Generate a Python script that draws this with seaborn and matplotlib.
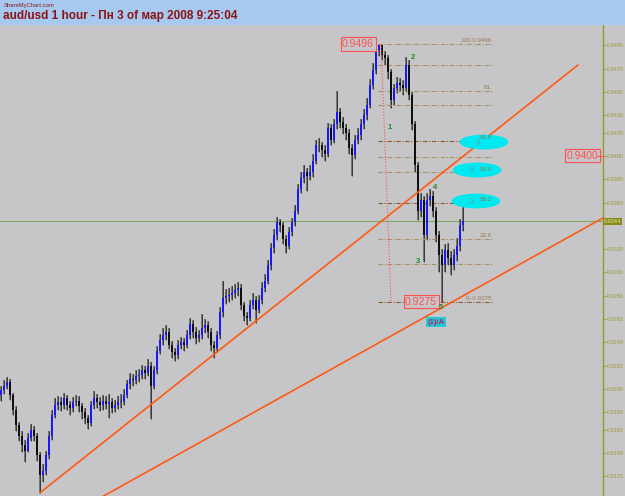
"""
aud/usd 1 hour chart (ShareMyChart screenshot) - candles, fibo levels, trendlines
"""
import numpy as np
import pandas as pd
import matplotlib.pyplot as plt
import seaborn as sns
from matplotlib.patches import Ellipse, Rectangle

sns.set_style("white")
plt.rcParams["font.family"] = ["Liberation Sans", "DejaVu Sans"]

# ---------------- DATA ----------------
closes = [0.9199, 0.9203, 0.9206, 0.9195, 0.9182, 0.9169, 0.9160, 0.9152, 0.9147, 0.9158,
          0.9165, 0.9160, 0.9143, 0.9126, 0.9130, 0.9143, 0.9160, 0.9178, 0.9186, 0.9189,
          0.9186, 0.9192, 0.9186, 0.9184, 0.9189, 0.9190, 0.9185, 0.9180, 0.9175, 0.9171,
          0.9186, 0.9192, 0.9189, 0.9186, 0.9190, 0.9187, 0.9189, 0.9184, 0.9186, 0.9189,
          0.9190, 0.9195, 0.9204, 0.9209, 0.9208, 0.9211, 0.9212, 0.9216, 0.9214, 0.9220,
          0.9203, 0.9216, 0.9233, 0.9242, 0.9246, 0.9249, 0.9238, 0.9232, 0.9229, 0.9238,
          0.9240, 0.9238, 0.9246, 0.9256, 0.9249, 0.9244, 0.9246, 0.9252, 0.9255, 0.9249,
          0.9238, 0.9235, 0.9246, 0.9266, 0.9278, 0.9280, 0.9281, 0.9282, 0.9285, 0.9287,
          0.9272, 0.9263, 0.9261, 0.9272, 0.9276, 0.9268, 0.9276, 0.9287, 0.9293, 0.9306,
          0.9321, 0.9332, 0.9343, 0.9341, 0.9329, 0.9323, 0.9335, 0.9343, 0.9353, 0.9372,
          0.9381, 0.9386, 0.9383, 0.9386, 0.9396, 0.9409, 0.9409, 0.9405, 0.9402, 0.9424,
          0.9414, 0.9427, 0.9438, 0.9429, 0.9424, 0.9420, 0.9407, 0.9401, 0.9414, 0.9418,
          0.9427, 0.9435, 0.9444, 0.9461, 0.9474, 0.9491, 0.9495, 0.9487, 0.9484, 0.9472,
          0.9448, 0.9458, 0.9463, 0.9461, 0.9458, 0.9478, 0.9452, 0.9427, 0.9392, 0.9353,
          0.9362, 0.9332, 0.9362, 0.9366, 0.9353, 0.9332, 0.9315, 0.9306, 0.9319, 0.9312,
          0.9306, 0.9315, 0.9323, 0.9341, 0.9344]
highs = [0.9203, 0.9208, 0.9210, 0.9209, 0.9197, 0.9185, 0.9172, 0.9164, 0.9156, 0.9162,
         0.9170, 0.9168, 0.9162, 0.9146, 0.9136, 0.9147, 0.9164, 0.9182, 0.9192, 0.9194,
         0.9193, 0.9197, 0.9195, 0.9190, 0.9193, 0.9195, 0.9194, 0.9188, 0.9184, 0.9178,
         0.9190, 0.9198, 0.9196, 0.9193, 0.9195, 0.9194, 0.9196, 0.9192, 0.9191, 0.9194,
         0.9196, 0.9200, 0.9208, 0.9214, 0.9213, 0.9216, 0.9217, 0.9221, 0.9220, 0.9226,
         0.9223, 0.9220, 0.9237, 0.9247, 0.9252, 0.9255, 0.9252, 0.9241, 0.9235, 0.9242,
         0.9245, 0.9244, 0.9251, 0.9261, 0.9259, 0.9253, 0.9251, 0.9264, 0.9260, 0.9258,
         0.9252, 0.9241, 0.9250, 0.9270, 0.9293, 0.9286, 0.9287, 0.9288, 0.9290, 0.9292,
         0.9290, 0.9275, 0.9266, 0.9276, 0.9282, 0.9280, 0.9281, 0.9292, 0.9299, 0.9311,
         0.9325, 0.9337, 0.9348, 0.9346, 0.9343, 0.9332, 0.9339, 0.9347, 0.9358, 0.9376,
         0.9386, 0.9392, 0.9390, 0.9392, 0.9402, 0.9414, 0.9415, 0.9412, 0.9409, 0.9428,
         0.9427, 0.9432, 0.9456, 0.9441, 0.9433, 0.9427, 0.9423, 0.9410, 0.9418, 0.9424,
         0.9432, 0.9440, 0.9450, 0.9466, 0.9480, 0.9494, 0.9496, 0.9496, 0.9490, 0.9487,
         0.9475, 0.9462, 0.9468, 0.9467, 0.9465, 0.9485, 0.9482, 0.9455, 0.9430, 0.9395,
         0.9368, 0.9366, 0.9368, 0.9372, 0.9370, 0.9356, 0.9336, 0.9320, 0.9324, 0.9325,
         0.9318, 0.9320, 0.9330, 0.9346, 0.9362]
lows = [0.9190, 0.9196, 0.9200, 0.9191, 0.9178, 0.9164, 0.9155, 0.9146, 0.9137, 0.9146,
        0.9155, 0.9155, 0.9138, 0.9111, 0.9120, 0.9126, 0.9140, 0.9156, 0.9175, 0.9182,
        0.9181, 0.9183, 0.9182, 0.9178, 0.9180, 0.9185, 0.9180, 0.9174, 0.9170, 0.9166,
        0.9168, 0.9183, 0.9184, 0.9181, 0.9182, 0.9183, 0.9175, 0.9179, 0.9180, 0.9183,
        0.9184, 0.9186, 0.9192, 0.9200, 0.9203, 0.9204, 0.9206, 0.9209, 0.9209, 0.9211,
        0.9174, 0.9200, 0.9213, 0.9230, 0.9238, 0.9242, 0.9234, 0.9227, 0.9224, 0.9226,
        0.9234, 0.9233, 0.9235, 0.9243, 0.9244, 0.9239, 0.9240, 0.9243, 0.9248, 0.9244,
        0.9233, 0.9227, 0.9232, 0.9243, 0.9262, 0.9273, 0.9275, 0.9276, 0.9278, 0.9280,
        0.9268, 0.9258, 0.9255, 0.9258, 0.9269, 0.9257, 0.9265, 0.9273, 0.9283, 0.9290,
        0.9302, 0.9317, 0.9328, 0.9335, 0.9324, 0.9317, 0.9320, 0.9331, 0.9340, 0.9350,
        0.9368, 0.9377, 0.9370, 0.9379, 0.9382, 0.9393, 0.9403, 0.9399, 0.9396, 0.9399,
        0.9409, 0.9411, 0.9423, 0.9424, 0.9419, 0.9414, 0.9402, 0.9383, 0.9397, 0.9410,
        0.9414, 0.9423, 0.9431, 0.9441, 0.9457, 0.9470, 0.9486, 0.9482, 0.9478, 0.9466,
        0.9441, 0.9444, 0.9454, 0.9456, 0.9452, 0.9455, 0.9448, 0.9422, 0.9386, 0.9345,
        0.9348, 0.9309, 0.9328, 0.9357, 0.9348, 0.9326, 0.9300, 0.9275, 0.9300, 0.9306,
        0.9298, 0.9302, 0.9310, 0.9318, 0.9336]
first_open = 0.9195

# right price scale (MT4 style labels)
tick_vals = [0.9495, 0.9475, 0.9455, 0.9435, 0.9420, 0.9400, 0.9380, 0.9360, 0.9320,
             0.9300, 0.9280, 0.9260, 0.9240, 0.9220, 0.9200, 0.9180, 0.9165, 0.9145, 0.9125]
tick_labels = [f"{v:.4f}" for v in tick_vals]
current_price = 0.9344

# fibonacci retracement 0.9496 -> 0.9275
fib_levels = [0.9496, 0.9478, 0.9456, 0.9444, 0.9413, 0.9399, 0.9386, 0.9360, 0.9329, 0.9307, 0.9275]
fib_names = ["100.0.9496", "", "81.", "", "61.8", "", "50.0", "38.2", "23.6", "", "0.-0.9275"]
fib_dark = [False, False, False, False, True, False, False, True, False, False, True]

# trendlines (bar index, price)
trend1_x = [13, 192.3]
trend1_y = [0.9111, 0.9478]
trend2_x = [25, 205]
trend2_y = [0.9095, 0.9353]

# elliott wave marks
wave_names = ["1", "2", "3", "4", "5"]
wave_x = [129.7, 137.3, 139.0, 144.7, 146.6]
wave_y = [0.94248, 0.94848, 0.93098, 0.93733, 0.92700]

# ---------------- FRAME ----------------
bars = pd.DataFrame({"close": closes, "high": highs, "low": lows})
bars["open"] = [first_open] + closes[:-1]
bars["idx"] = np.arange(len(bars))
bars["up"] = bars["close"] >= bars["open"]

BG = "#c6c6c9"
BLUE_BAND = "#a7c8ef"
OLIVE = "#8f9a2a"
ORANGE = "#ff5a14"
FIB = "#a89060"
FIB_DARK = "#8a5a2a"

fig = plt.figure(figsize=(6.25, 4.96), dpi=100)
fig.patch.set_facecolor(BG)
ax = fig.add_axes([0, 0, 603 / 625, 472 / 496])
ax.set_facecolor(BG)
fig.patches.append(Rectangle((0, 472 / 496), 1, 24 / 496, transform=fig.transFigure,
                             color=BLUE_BAND, zorder=0))

fig.text(4 / 625, 1 - 5 / 496, "ShareMyChart.com", fontsize=4.2, color="#8b1a1a", va="center")
fig.text(3 / 625, 1 - 16 / 496, "aud/usd 1 hour - Пн 3 of мар 2008 9:25:04",
         fontsize=8.5, fontweight="bold", color="#8b1414", va="center")

# current price line
ax.axhline(current_price, color="#80a860", lw=0.8, zorder=1)

# candles: gray shadow, then body (blue up / black down)
ax.vlines(bars["idx"], bars["low"], bars["high"], color="#747474", lw=1.4, zorder=2)
ax.vlines(bars["idx"], bars["low"], bars["high"], color="#202020", lw=0.5, zorder=2)
body_lo = bars[["open", "close"]].min(axis=1)
body_h = (bars["close"] - bars["open"]).abs().clip(lower=0.00008)
ax.bar(bars["idx"], body_h, bottom=body_lo, width=0.55,
       color=np.where(bars["up"], "#1818ff", "#101010"), linewidth=0, zorder=3)

# trendlines
sns.lineplot(x=trend1_x, y=trend1_y, ax=ax, color=ORANGE, lw=1.2, zorder=4)
sns.lineplot(x=trend2_x, y=trend2_y, ax=ax, color=ORANGE, lw=1.2, zorder=4)

# fibo levels
fib_x0, fib_x1 = 125.7, 163.7
for lvl, name, dark in zip(fib_levels, fib_names, fib_dark):
    ax.plot([fib_x0, fib_x1], [lvl, lvl], color=FIB_DARK if dark else FIB,
            lw=0.8, ls=(0, (4, 1.5, 1, 1.5)), zorder=2)
    if name:
        ax.text(fib_x1, lvl + 0.00005, name, fontsize=4.5, color="#9a7a50",
                ha="right", va="bottom", zorder=6)
ax.plot([126.7, 130.0], [0.9496, 0.9275], color="#ff5050", lw=0.8, ls=":", zorder=3)

# cyan target ellipses
for cx, cy in [(161.0, 0.94119), (158.7, 0.93879), (158.3, 0.93613)]:
    ax.add_patch(Ellipse((cx, cy), 15.7, 0.00115, color="#00e8f0", zorder=5))
for cx, cy in [(159.0, 0.94110), (156.7, 0.93879), (156.7, 0.93603)]:
    ax.text(cx, cy, "⇩", fontsize=6, color="#7a8a8a", ha="center", va="center",
            family=["DejaVu Sans"], zorder=6)

# wave counts
for name, wx, wy in zip(wave_names, wave_x, wave_y):
    ax.text(wx, wy, name, fontsize=5.5, color="#208a20", fontweight="bold",
            ha="center", va="center", zorder=7)

# price boxes
box = dict(boxstyle="square,pad=0.15", fc=BG, ec="#ff5050", lw=0.8)
ax.text(119.0, 0.9496, "0.9496", fontsize=7.5, color="#ff5050", ha="center", va="center",
        bbox=box, zorder=6)
ax.text(140.0, 0.9275, "0.9275", fontsize=7.5, color="#ff5050", ha="center", va="center",
        bbox=box, zorder=6)
ax.text(193.7, 0.9400, "0.9400", fontsize=7.5, color="#ff5050", ha="center", va="center",
        bbox=box, zorder=6)
ax.plot([198.7, 200.7], [0.9400, 0.9400], color="#ff5050", lw=0.8, zorder=6)
ax.text(145.0, 0.92575, "(1)/A", fontsize=5.5, color="#c02060", fontweight="bold",
        ha="center", va="center", zorder=6,
        bbox=dict(boxstyle="square,pad=0.2", fc="#20c8d8", ec="none"))

# axes / right scale
ax.set_xlim(-1 / 3, 602 / 3)
ax.set_ylim(0.91082, 0.95132)
ax.set_xticks([])
ax.yaxis.tick_right()
ax.set_yticks(tick_vals)
ax.set_yticklabels(tick_labels)
ax.tick_params(axis="y", length=2, width=0.6, color=OLIVE, labelsize=4.0,
               labelcolor="#9a9a2a", pad=0.8)
for side in ["top", "bottom", "left"]:
    ax.spines[side].set_visible(False)
ax.spines["right"].set_color(OLIVE)
ax.spines["right"].set_linewidth(1.0)
ax.text(1.002, current_price, "0.9344", transform=ax.get_yaxis_transform(), fontsize=4.0,
        color="#e8e8b0", ha="left", va="center", clip_on=False, zorder=7,
        bbox=dict(boxstyle="square,pad=0.15", fc="#8a8a18", ec="none"))

plt.savefig("out.png", dpi=100, facecolor=BG)
plt.close()
